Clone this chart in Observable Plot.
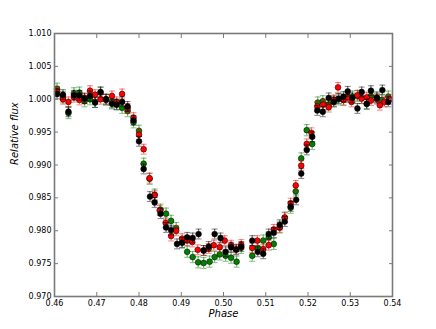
<!DOCTYPE html>
<html><head><meta charset="utf-8">
<script src="https://cdn.jsdelivr.net/npm/d3@7"></script>
<script src="https://cdn.jsdelivr.net/npm/@observablehq/plot@0.6"></script>
<style>html,body{margin:0;padding:0;background:#fff}svg{display:block}</style>
</head><body><div id="chart"></div>
<script>
const xTicks = [0.46, 0.47, 0.48, 0.49, 0.50, 0.51, 0.52, 0.53, 0.54];
const yTicks = [0.970, 0.975, 0.980, 0.985, 0.990, 0.995, 1.000, 1.005, 1.010];
const xLabel = "Phase";
const yLabel = "Relative flux";

const blackPhase = [0.4606,0.4620,0.4633,0.4646,0.4659,0.4671,0.4684,0.4696,0.4709,0.4722,0.4736,0.4747,0.4760,0.4773,0.4787,0.4800,0.4811,0.4826,0.4837,0.4851,0.4864,0.4876,0.4890,0.4902,0.4914,0.4927,0.4941,0.4953,0.4965,0.4979,0.4993,0.5005,0.5018,0.5030,0.5042,0.5068,0.5081,0.5094,0.5107,0.5119,0.5133,0.5145,0.5159,0.5172,0.5184,0.5197,0.5210,0.5222,0.5235,0.5249,0.5261,0.5273,0.5284,0.5294,0.5305,0.5317,0.5327,0.5339,0.5349,0.5363,0.5376,0.5390];
const blackFlux  = [1.0008,1.0007,0.9981,1.0006,1.0006,1.0001,1.0005,0.9995,1.0011,1.0000,0.9993,0.9992,0.9996,0.9989,0.9968,0.9936,0.9894,0.9852,0.9843,0.9826,0.9805,0.9801,0.9780,0.9782,0.9790,0.9789,0.9795,0.9770,0.9776,0.9795,0.9789,0.9768,0.9775,0.9771,0.9776,0.9785,0.9768,0.9765,0.9795,0.9797,0.9809,0.9814,0.9837,0.9847,0.9887,0.9923,0.9943,0.9983,0.9981,1.0002,0.9996,1.0001,1.0004,1.0012,1.0002,0.9986,1.0011,0.9993,1.0013,1.0002,1.0014,0.9996];

const redPhase = [0.4606,0.4620,0.4633,0.4646,0.4659,0.4671,0.4684,0.4696,0.4709,0.4722,0.4736,0.4747,0.4760,0.4773,0.4787,0.4800,0.4811,0.4825,0.4837,0.4849,0.4863,0.4876,0.4888,0.4902,0.4914,0.4926,0.4939,0.4953,0.4965,0.4977,0.4991,0.5003,0.5018,0.5030,0.5042,0.5068,0.5080,0.5094,0.5107,0.5119,0.5133,0.5145,0.5159,0.5171,0.5184,0.5197,0.5208,0.5222,0.5236,0.5249,0.5261,0.5271,0.5284,0.5294,0.5303,0.5317,0.5327,0.5339,0.5349,0.5363,0.5370,0.5381,0.5393];
const redFlux  = [1.0012,1.0000,0.9996,1.0003,0.9999,1.0002,1.0013,1.0007,1.0000,1.0000,1.0005,0.9996,1.0008,0.9986,0.9972,0.9946,0.9924,0.9880,0.9854,0.9831,0.9812,0.9792,0.9800,0.9788,0.9785,0.9783,0.9771,0.9770,0.9773,0.9778,0.9775,0.9785,0.9778,0.9772,0.9779,0.9774,0.9785,0.9772,0.9778,0.9802,0.9805,0.9820,0.9842,0.9869,0.9899,0.9932,0.9949,0.9989,0.9992,0.9988,0.9999,1.0018,0.9999,1.0003,0.9996,1.0006,1.0001,1.0003,0.9998,1.0000,0.9991,0.9996,1.0000];

const greenPhase = [0.4606,0.4620,0.4633,0.4646,0.4659,0.4671,0.4684,0.4696,0.4709,0.4722,0.4736,0.4747,0.4760,0.4773,0.4787,0.4800,0.4811,0.4825,0.4837,0.4851,0.4864,0.4876,0.4888,0.4902,0.4914,0.4927,0.4940,0.4953,0.4967,0.4979,0.4991,0.5005,0.5018,0.5031,0.5042,0.5068,0.5081,0.5094,0.5107,0.5119,0.5133,0.5145,0.5159,0.5171,0.5184,0.5197,0.5210,0.5223,0.5235,0.5249,0.5261,0.5271,0.5284,0.5294,0.5305,0.5317,0.5327,0.5339,0.5349,0.5363,0.5375,0.5390];
const greenFlux  = [1.0016,1.0003,0.9979,1.0009,1.0010,0.9997,1.0000,0.9996,1.0010,0.9999,0.9996,0.9992,0.9987,0.9982,0.9965,0.9952,0.9902,0.9879,0.9855,0.9832,0.9826,0.9815,0.9804,0.9782,0.9768,0.9760,0.9752,0.9751,0.9753,0.9760,0.9764,0.9762,0.9759,0.9753,0.9774,0.9762,0.9774,0.9785,0.9790,0.9780,0.9805,0.9820,0.9835,0.9860,0.9910,0.9953,0.9932,0.9995,0.9997,0.9992,0.9997,1.0000,0.9999,1.0004,1.0004,1.0005,1.0002,0.9993,1.0005,1.0003,0.9999,1.0004];

const errBlack = 0.00075, errRed = 0.00075, errGreen = 0.00085;

const series = [
  {phase: greenPhase, flux: greenFlux, err: errGreen, color: "#008000"},
  {phase: redPhase, flux: redFlux, err: errRed, color: "#ff0000"},
  {phase: blackPhase, flux: blackFlux, err: errBlack, color: "#000000"}
];

const capSymbol = {draw(ctx, size) { const w = Math.sqrt(size / Math.PI); ctx.moveTo(-w, 0); ctx.lineTo(w, 0); }};

const marks = [];
for (const s of series) {
  const rows = s.phase.map((p, i) => ({x: p, y: s.flux[i], lo: s.flux[i] - s.err, hi: s.flux[i] + s.err}));
  marks.push(Plot.ruleX(rows, {x: "x", y1: "lo", y2: "hi", stroke: s.color, strokeOpacity: 0.5, strokeWidth: 1.3}));
  marks.push(Plot.dot(rows, {x: "x", y: "lo", symbol: capSymbol, r: 3, stroke: s.color, strokeOpacity: 0.45, strokeWidth: 1.1, fill: "none"}));
  marks.push(Plot.dot(rows, {x: "x", y: "hi", symbol: capSymbol, r: 3, stroke: s.color, strokeOpacity: 0.45, strokeWidth: 1.1, fill: "none"}));
  marks.push(Plot.dot(rows, {x: "x", y: "y", r: 2.9, fill: s.color, stroke: "#000", strokeWidth: 0.5}));
}

const axisStroke = "#7a7a7a";
const chart = Plot.plot({
  width: 436, height: 329,
  marginLeft: 54, marginRight: 44, marginTop: 33, marginBottom: 33,
  style: {fontFamily: "DejaVu Sans", fontSize: "8px", color: "#000", background: "#fff"},
  x: {domain: [0.46, 0.54]},
  y: {domain: [0.970, 1.010]},
  marks: [
    ...marks,
    Plot.axisX(xTicks, {anchor: "bottom", tickSize: -4, tickPadding: 8, tickFormat: d3.format(".2f"), stroke: axisStroke, label: null, fill: "#000"}),
    Plot.axisX(xTicks, {anchor: "top", tickSize: -4, tickFormat: () => "", stroke: axisStroke, label: null}),
    Plot.axisY(yTicks, {anchor: "left", tickSize: -4, tickPadding: 7, tickFormat: d3.format(".3f"), stroke: axisStroke, label: null, fill: "#000"}),
    Plot.axisY(yTicks, {anchor: "right", tickSize: -4, tickFormat: () => "", stroke: axisStroke, label: null}),
    Plot.frame({stroke: axisStroke, strokeWidth: 1.6}),
    Plot.text([xLabel], {frameAnchor: "bottom", dy: 20, text: d => d, fontStyle: "italic", fontSize: 10, fill: "#000"}),
    Plot.text([yLabel], {frameAnchor: "left", dx: -40, rotate: -90, text: d => d, fontStyle: "italic", fontSize: 10, fill: "#000"})
  ]
});
document.getElementById("chart").appendChild(chart);
</script>
</body></html>
